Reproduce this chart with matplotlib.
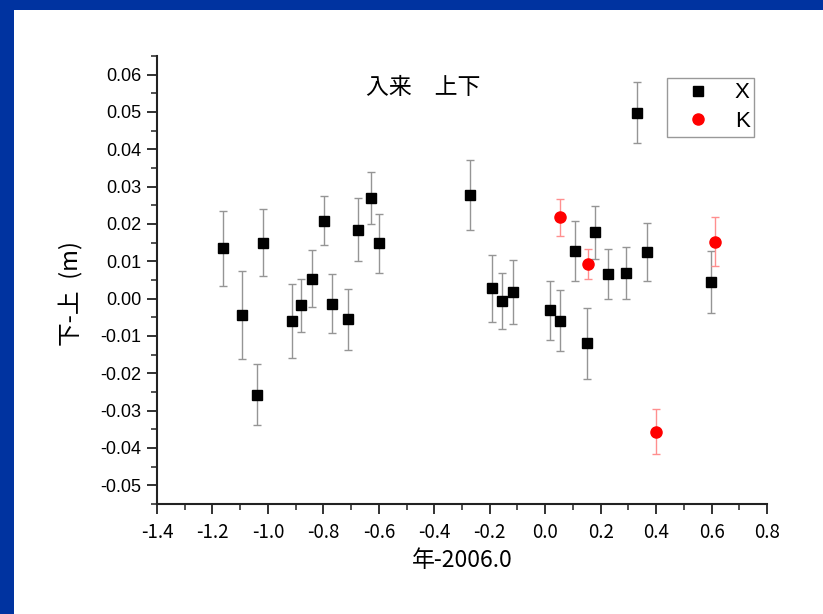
import matplotlib
matplotlib.use("Agg")
import matplotlib.pyplot as plt
from matplotlib.ticker import MultipleLocator, FormatStrFormatter
from matplotlib.patches import Rectangle
from matplotlib.lines import Line2D
from matplotlib import font_manager

plt.rcParams['font.family'] = ['Liberation Sans', 'Noto Sans CJK JP', 'DejaVu Sans']

# X series: epoch offset, difference (m), error (m)
x_t = [-1.163, -1.094, -1.039, -1.018, -0.914, -0.880, -0.841, -0.799, -0.768,
       -0.712, -0.676, -0.629, -0.598, -0.271, -0.193, -0.157, -0.115, 0.016,
       0.055, 0.109, 0.152, 0.181, 0.226, 0.293, 0.330, 0.367, 0.598]
x_v = [0.0135, -0.0043, -0.0257, 0.0150, -0.0060, -0.0018, 0.0054, 0.0209, -0.0013,
       -0.0055, 0.0185, 0.0269, 0.0148, 0.0277, 0.0028, -0.0006, 0.0018, -0.0031,
       -0.0059, 0.0127, -0.0120, 0.0178, 0.0066, 0.0068, 0.0498, 0.0124, 0.0045]
x_e = [0.0100, 0.0118, 0.0082, 0.0089, 0.0099, 0.0071, 0.0077, 0.0066, 0.0078,
       0.0082, 0.0085, 0.0069, 0.0078, 0.0094, 0.0090, 0.0076, 0.0086, 0.0079,
       0.0082, 0.0080, 0.0096, 0.0071, 0.0066, 0.0070, 0.0082, 0.0078, 0.0083]

# K series
k_t = [0.052, 0.153, 0.401, 0.611]
k_v = [0.0218, 0.0092, -0.0356, 0.0153]
k_e = [0.0049, 0.0040, 0.0060, 0.0066]

x_ticks = [-1.4, -1.2, -1.0, -0.8, -0.6, -0.4, -0.2, 0.0, 0.2, 0.4, 0.6, 0.8]
y_ticks = [-0.05, -0.04, -0.03, -0.02, -0.01, 0.00, 0.01, 0.02, 0.03, 0.04, 0.05, 0.06]

cjk = ['Noto Sans CJK JP', 'DejaVu Sans']
installed = {f.name for f in font_manager.fontManager.ttflist}
narrow = 'Liberation Sans Narrow' if 'Liberation Sans Narrow' in installed else 'Noto Sans CJK JP'
sans = 'Liberation Sans' if 'Liberation Sans' in installed else 'DejaVu Sans'

fig = plt.figure(figsize=(8.23, 6.14), dpi=100)
fig.patch.set_facecolor('white')

# slide frame: blue strip along the top and left edges
fig.patches.append(Rectangle((0, 1 - 10 / 614), 1, 10 / 614, transform=fig.transFigure,
                             facecolor='#0033A0', edgecolor='none', zorder=0))
fig.patches.append(Rectangle((0, 0), 14 / 823, 1, transform=fig.transFigure,
                             facecolor='#0033A0', edgecolor='none', zorder=0))

ax = fig.add_axes([157 / 823, 110 / 614, 610 / 823, 448 / 614])

ax.errorbar(x_t, x_v, yerr=x_e, fmt='s', color='black', markersize=7.8,
            ecolor='#959595', elinewidth=1.0, capsize=3.2, capthick=1.0, zorder=3)
ax.errorbar(k_t, k_v, yerr=k_e, fmt='o', color='#FF0000', markersize=8,
            ecolor='#FF8F8F', elinewidth=1.0, capsize=3.2, capthick=1.0, zorder=3)

ax.set_xlim(-1.4, 0.8)
ax.set_ylim(-0.055, 0.065)
ax.set_xticks(x_ticks)
ax.set_yticks(y_ticks)
ax.xaxis.set_minor_locator(MultipleLocator(0.1))
ax.yaxis.set_minor_locator(MultipleLocator(0.005))
ax.xaxis.set_major_formatter(FormatStrFormatter('%.1f'))
ax.yaxis.set_major_formatter(FormatStrFormatter('%.2f'))

for side in ('top', 'right'):
    ax.spines[side].set_visible(False)
for side in ('left', 'bottom'):
    ax.spines[side].set_linewidth(1.5)
    ax.spines[side].set_color('#222222')

ax.tick_params(which='major', direction='out', length=7, width=1.3, color='#222222')
ax.tick_params(which='minor', direction='out', length=4, width=1.1, color='#222222')
ax.tick_params(axis='y', labelsize=13, pad=4)
ax.tick_params(axis='x', labelsize=13.5, pad=6)
for lab in ax.get_yticklabels():
    lab.set_family([sans, 'DejaVu Sans'])
for lab in ax.get_xticklabels():
    lab.set_family([narrow, 'DejaVu Sans'])

ax.set_xlabel('年-2006.0', fontsize=16.5, family=cjk, labelpad=4)
ax.set_ylabel('下-上\u2002(m)', fontsize=17, family=cjk)
ax.yaxis.set_label_coords(-0.12, 0.469)

ax.text(0.436, 0.929, '入来\u3000上下', transform=ax.transAxes, ha='center', va='center',
        fontsize=16.5, family=cjk)

handles = [Line2D([], [], linestyle='none', marker='s', color='black', markersize=7.8),
           Line2D([], [], linestyle='none', marker='o', color='#FF0000', markersize=8)]
leg = ax.legend(handles, ['X', 'K'], loc='upper left', bbox_to_anchor=(0.836, 0.951),
                fontsize=16, frameon=True, fancybox=False, edgecolor='#999999',
                framealpha=1, handletextpad=0.45, borderpad=0.2, labelspacing=0.35,
                handlelength=2.4, borderaxespad=0)
leg.get_frame().set_linewidth(1.0)

fig.savefig('out.png', dpi=100, facecolor='white')
